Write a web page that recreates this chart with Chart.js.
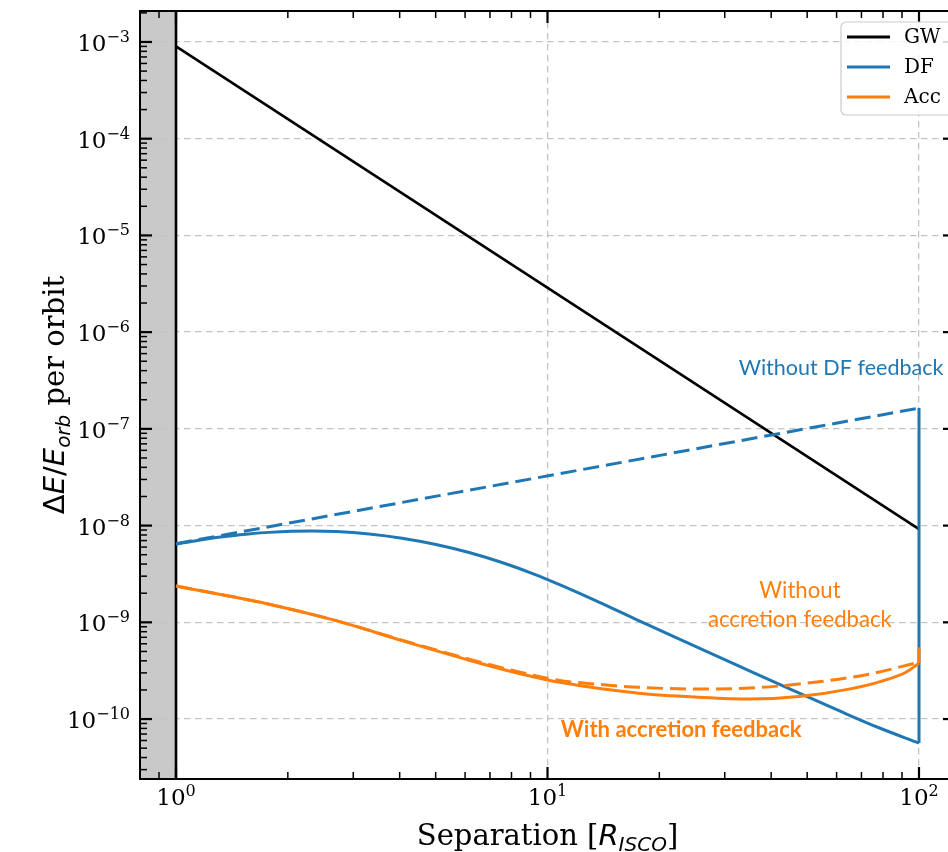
<!DOCTYPE html>
<html>
<head>
<meta charset="utf-8">
<script src="https://cdn.jsdelivr.net/npm/chart.js@4.4.0/dist/chart.umd.min.js"></script>
<style>
  html, body { margin: 0; padding: 0; background: #fff; overflow: hidden; width: 948px; height: 852px; }
  #wrap { position: relative; width: 1000px; height: 852px; }
</style>
</head>
<body>
<div id="wrap"><canvas id="chart" width="1000" height="852"></canvas></div>
<script>
// axis ranges and tick labels (exponents of 10)
const xRange = [0.8, 125];
const yRange = [2.4e-11, 2.09e-3];
const xTickExps = [0, 1, 2];
const yTickExps = [-10, -9, -8, -7, -6, -5, -4, -3];
const shadeUpTo = 1; // region inside the ISCO

// GW
const gwSep = [1, 100];
const gwVal = [9.0e-4, 9.2e-9];

// DF without feedback (dashed)
const dfNoFbSep = [1, 100];
const dfNoFbVal = [6.5e-9, 1.64e-7];

// DF with feedback (solid)
const dfSep = [1, 1.3, 1.57, 1.78, 2.32, 2.70, 3.31, 4.06, 5.01, 6.15, 7.54, 9.31, 10.7, 13.8, 17.6, 24.0, 32.8, 44.7, 60.9, 78.0, 100];
const dfVal = [6.46e-9, 7.57e-9, 8.2e-9, 8.51e-9, 8.77e-9, 8.67e-9, 8.2e-9, 7.41e-9, 6.38e-9, 5.27e-9, 4.15e-9, 3.10e-9, 2.48e-9,
               1.61e-9, 1.04e-9, 6.07e-10, 3.52e-10, 2.06e-10, 1.22e-10, 8.13e-11, 5.64e-11];
const dfJumpSep = [100, 100];
const dfJumpVal = [5.64e-11, 1.64e-7];

// Accretion with feedback (solid)
const accSep = [1, 1.33, 1.78, 2.70, 4.06, 6.15, 8.13, 10.7, 17.6, 25.6, 34.9, 47.5, 64.8, 79.5, 92.2, 100];
const accVal = [2.37e-9, 1.93e-9, 1.54e-9, 1.04e-9, 6.47e-10, 4.06e-10, 3.05e-10, 2.41e-10, 1.85e-10, 1.68e-10, 1.61e-10, 1.71e-10,
                2.04e-10, 2.47e-10, 3.05e-10, 3.78e-10];
const accJumpSep = [100, 100];
const accJumpVal = [3.78e-10, 5.5e-10];

// Accretion without feedback (dashed)
const accNoFbSep = [1, 1.33, 1.78, 2.70, 4.06, 6.15, 8.13, 10.7, 13.8, 17.6, 25.6, 34.9, 47.5, 73.3, 100];
const accNoFbVal = [2.37e-9, 1.93e-9, 1.54e-9, 1.04e-9, 6.53e-10, 4.16e-10, 3.16e-10, 2.52e-10, 2.28e-10, 2.13e-10, 2.04e-10, 2.09e-10,
                    2.30e-10, 2.91e-10, 3.87e-10];

const BLUE = '#1f77b4';
const ORANGE = '#ff7f0e';

function pts(xs, ys) {
  return xs.map((x, i) => ({x: x, y: ys[i]}));
}

function line(ctx, x1, y1, x2, y2) {
  ctx.beginPath();
  ctx.moveTo(x1, y1);
  ctx.lineTo(x2, y2);
  ctx.stroke();
}

// text made of several runs (normal / italic / super / sub)
function runsWidth(ctx, runs) {
  let w = 0;
  for (const r of runs) { ctx.font = r.f; w += ctx.measureText(r.t).width; }
  return w;
}
function drawRuns(ctx, runs, x, y, align) {
  const w = runsWidth(ctx, runs);
  let cx = align === 'right' ? x - w : align === 'center' ? x - w / 2 : x;
  for (const r of runs) {
    ctx.font = r.f;
    ctx.fillText(r.t, cx, y + (r.dy || 0));
    cx += ctx.measureText(r.t).width;
  }
}

function fitSize(ctx, text, weight, family, width) {
  ctx.font = weight + ' 100px ' + family;
  return 100 * width / ctx.measureText(text).width;
}

const SERIF = '"DejaVu Serif"';
const MATH = '"DejaVu Sans"';
const NOTE = 'Lato';

function powLabel(exp) {
  const e = exp < 0 ? '\u2212' + (-exp) : String(exp);
  return [
    {t: '10', f: '23px ' + SERIF},
    {t: e, f: '16px ' + SERIF, dy: -9}
  ];
}

// annotations (anchored in data coordinates)
const notes = [
  {t: 'Without DF feedback', x: 61.7, y: 3.6e-7, w: 205, weight: 'normal', color: BLUE},
  {t: 'Without', x: 47.8, y: 1.78e-9, w: 78, weight: 'normal', color: ORANGE, sizeFrom: 'accretion feedback', sizeW: 184},
  {t: 'accretion feedback', x: 47.8, y: 8.9e-10, w: 184, weight: 'normal', color: ORANGE},
  {t: 'With accretion feedback', x: 22.9, y: 6.5e-11, w: 241, weight: 'bold', color: ORANGE}
];

const mplStyle = {
  id: 'mplStyle',
  beforeDraw(chart) {
    const {ctx, chartArea: a, scales: {x}} = chart;
    ctx.save();
    ctx.fillStyle = '#c9c9c9';
    const xr = x.getPixelForValue(shadeUpTo);
    ctx.fillRect(a.left, a.top, xr - a.left, a.bottom - a.top);
    ctx.restore();
  },
  beforeDatasetsDraw(chart) {
    const {ctx, chartArea: a, scales: {x}} = chart;
    ctx.save();
    ctx.strokeStyle = '#000';
    ctx.lineWidth = 2.6;
    const px = x.getPixelForValue(shadeUpTo);
    line(ctx, px, a.top, px, a.bottom);
    ctx.restore();
  },
  afterDraw(chart) {
    const {ctx, chartArea: a, scales: {x, y}} = chart;
    ctx.save();
    ctx.strokeStyle = '#000';
    ctx.fillStyle = '#000';

    // minor + major ticks, pointing inwards on all four sides
    for (let d = -12; d <= -2; d++) {
      for (let k = 1; k <= 9; k++) {
        const v = k * Math.pow(10, d);
        if (v < yRange[0] || v > yRange[1]) continue;
        const py = y.getPixelForValue(v);
        const len = k === 1 ? 12 : 7;
        ctx.lineWidth = k === 1 ? 2.2 : 1.5;
        line(ctx, a.left, py, a.left + len, py);
        line(ctx, a.right, py, a.right - len, py);
      }
    }
    for (let d = -1; d <= 2; d++) {
      for (let k = 1; k <= 9; k++) {
        const v = k * Math.pow(10, d);
        if (v < xRange[0] || v > xRange[1]) continue;
        const px = x.getPixelForValue(v);
        const len = k === 1 ? 12 : 7;
        ctx.lineWidth = k === 1 ? 2.2 : 1.5;
        line(ctx, px, a.bottom, px, a.bottom - len);
        line(ctx, px, a.top, px, a.top + len);
      }
    }

    // frame
    ctx.lineWidth = 2;
    ctx.strokeRect(a.left, a.top, a.right - a.left, a.bottom - a.top);

    // tick labels
    ctx.textBaseline = 'alphabetic';
    ctx.textAlign = 'left';
    for (const e of yTickExps) {
      const py = y.getPixelForValue(Math.pow(10, e));
      drawRuns(ctx, powLabel(e), a.left - 10, py + 9, 'right');
    }
    for (const e of xTickExps) {
      const px = x.getPixelForValue(Math.pow(10, e));
      drawRuns(ctx, powLabel(e), px, a.bottom + 26, 'center');
    }

    // axis titles
    const xTitle = [
      {t: 'Separation [', f: '29px ' + SERIF},
      {t: 'R', f: 'italic 29px ' + MATH},
      {t: 'ISCO', f: 'italic 20px ' + MATH, dy: 6},
      {t: ']', f: '29px ' + SERIF}
    ];
    drawRuns(ctx, xTitle, (a.left + a.right) / 2, 845, 'center');

    const yTitle = [
      {t: '\u0394', f: '29px ' + MATH},
      {t: 'E', f: 'italic 29px ' + MATH},
      {t: '/', f: '29px ' + MATH},
      {t: 'E', f: 'italic 29px ' + MATH},
      {t: 'orb', f: 'italic 20px ' + MATH, dy: 6},
      {t: ' per orbit', f: '29px ' + SERIF}
    ];
    ctx.save();
    ctx.translate(64, (a.top + a.bottom) / 2);
    ctx.rotate(-Math.PI / 2);
    drawRuns(ctx, yTitle, 0, 0, 'center');
    ctx.restore();

    // annotations
    for (const n of notes) {
      const size = n.sizeFrom ? fitSize(ctx, n.sizeFrom, n.weight, NOTE, n.sizeW) : fitSize(ctx, n.t, n.weight, NOTE, n.w);
      ctx.font = n.weight + ' ' + size.toFixed(2) + 'px ' + NOTE;
      ctx.fillStyle = n.color;
      ctx.textAlign = 'center';
      ctx.fillText(n.t, x.getPixelForValue(n.x), y.getPixelForValue(n.y));
    }

    // legend (upper right)
    const lx = 841, ly = 22, lw = 112, lh = 93;
    ctx.beginPath();
    ctx.roundRect(lx, ly, lw, lh, 5);
    ctx.fillStyle = 'rgba(255,255,255,0.85)';
    ctx.fill();
    ctx.strokeStyle = '#cccccc';
    ctx.lineWidth = 1.2;
    ctx.stroke();
    const entries = chart.data.datasets.filter(ds => ds.inLegend);
    ctx.textAlign = 'left';
    ctx.textBaseline = 'middle';
    ctx.font = '20px ' + SERIF;
    entries.forEach((ds, i) => {
      const ry = 37 + i * 30;
      ctx.strokeStyle = ds.borderColor;
      ctx.lineWidth = 3;
      line(ctx, 847, ry, 890, ry);
      ctx.fillStyle = '#000';
      ctx.fillText(ds.label, 904, ry + 1);
    });
    ctx.restore();
  }
};

function decadeTicks(exps) {
  return axis => { axis.ticks = exps.map(e => ({value: Math.pow(10, e)})); };
}

const baseLine = {pointRadius: 0, fill: false, tension: 0, borderCapStyle: 'butt', borderJoinStyle: 'round'};
const smooth = {cubicInterpolationMode: 'monotone', tension: 0.4};

new Chart(document.getElementById('chart'), {
  type: 'line',
  data: {
    datasets: [
      Object.assign({}, baseLine, {label: 'GW', inLegend: true, data: pts(gwSep, gwVal), borderColor: '#000', borderWidth: 2.6, order: 5}),
      Object.assign({}, baseLine, smooth, {label: 'DF', inLegend: true, data: pts(dfSep, dfVal), borderColor: BLUE, borderWidth: 3, order: 4}),
      Object.assign({}, baseLine, {label: 'DF jump', data: pts(dfJumpSep, dfJumpVal), borderColor: BLUE, borderWidth: 3, order: 4}),
      Object.assign({}, baseLine, {label: 'DF no feedback', data: pts(dfNoFbSep, dfNoFbVal), borderColor: BLUE, borderWidth: 3, borderDash: [16, 7], order: 4}),
      Object.assign({}, baseLine, smooth, {label: 'Acc', inLegend: true, data: pts(accSep, accVal), borderColor: ORANGE, borderWidth: 3, order: 2}),
      Object.assign({}, baseLine, {label: 'Acc jump', data: pts(accJumpSep, accJumpVal), borderColor: ORANGE, borderWidth: 3, order: 2}),
      Object.assign({}, baseLine, smooth, {label: 'Acc no feedback', data: pts(accNoFbSep, accNoFbVal), borderColor: ORANGE, borderWidth: 3, borderDash: [16, 7], order: 2})
    ]
  },
  options: {
    responsive: false,
    animation: false,
    layout: {autoPadding: false, padding: {left: 140, top: 11, right: 45, bottom: 73}},
    plugins: {legend: {display: false}, tooltip: {enabled: false}},
    scales: {
      x: {
        type: 'logarithmic', min: xRange[0], max: xRange[1],
        afterBuildTicks: decadeTicks(xTickExps),
        ticks: {display: false},
        grid: {color: '#c4c4c4', lineWidth: 1.3, drawTicks: false},
        border: {display: false, dash: [6.5, 4.5]}
      },
      y: {
        type: 'logarithmic', min: yRange[0], max: yRange[1],
        afterBuildTicks: decadeTicks(yTickExps),
        ticks: {display: false},
        grid: {color: '#c4c4c4', lineWidth: 1.3, drawTicks: false},
        border: {display: false, dash: [6.5, 4.5]}
      }
    }
  },
  plugins: [mplStyle]
});
</script>
</body>
</html>
